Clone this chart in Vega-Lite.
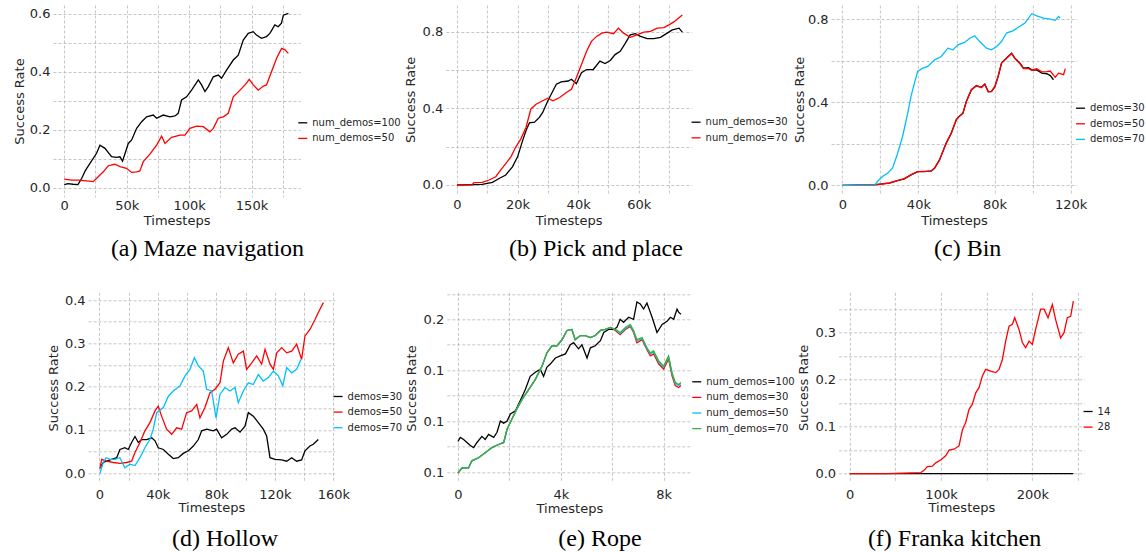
{
"$schema": "https://vega.github.io/schema/vega-lite/v6.json",
"autosize": {"type": "none"},
"padding": {"left": 53, "top": 5, "right": 1093, "bottom": 547},
"background": "white",
"config": {
  "view": {"stroke": null},
  "font": "DejaVu Sans",
  "axis": {"grid": true, "gridColor": "#b8b8b8", "gridDash": [3, 2], "gridWidth": 0.8, "domain": false, "ticks": false,
    "labelFont": "DejaVu Sans", "labelFontSize": 13, "labelColor": "#262626", "labelOverlap": false, "labelFlush": false,
    "titleFont": "DejaVu Sans", "titleFontSize": 13, "titleFontWeight": "normal", "titleColor": "#262626"},
  "axisY": {"labelPadding": 3, "titleBaseline": "middle"},
  "legend": {"orient": "none", "title": null, "labelFont": "DejaVu Sans", "labelFontSize": 10, "labelColor": "#262626",
    "symbolType": "stroke", "symbolSize": 81, "symbolStrokeWidth": 1.5, "rowPadding": 4.6, "labelOffset": 4, "padding": 0},
  "title": {"orient": "bottom", "font": "Liberation Serif", "fontSize": 24, "fontWeight": "normal", "color": "#000000", "frame": "group", "anchor": "middle"},
  "line": {"strokeWidth": 1.3}
},
"datasets": {
"maze": [
{"demos":"num_demos=100","step":0,"rate":0.011},{"demos":"num_demos=100","step":3000,"rate":0.014},{"demos":"num_demos=100","step":7000,"rate":0.012},{"demos":"num_demos=100","step":11000,"rate":0.011},{"demos":"num_demos=100","step":13900,"rate":0.032},{"demos":"num_demos=100","step":17000,"rate":0.06},{"demos":"num_demos=100","step":20600,"rate":0.084},{"demos":"num_demos=100","step":25900,"rate":0.119},{"demos":"num_demos=100","step":28600,"rate":0.147},{"demos":"num_demos=100","step":32600,"rate":0.136},{"demos":"num_demos=100","step":37900,"rate":0.107},{"demos":"num_demos=100","step":41900,"rate":0.105},{"demos":"num_demos=100","step":44600,"rate":0.107},{"demos":"num_demos=100","step":46700,"rate":0.092},{"demos":"num_demos=100","step":51300,"rate":0.153},{"demos":"num_demos=100","step":54000,"rate":0.165},{"demos":"num_demos=100","step":58000,"rate":0.205},{"demos":"num_demos=100","step":62000,"rate":0.228},{"demos":"num_demos=100","step":66000,"rate":0.245},{"demos":"num_demos=100","step":71300,"rate":0.251},{"demos":"num_demos=100","step":74000,"rate":0.24},{"demos":"num_demos=100","step":79300,"rate":0.251},{"demos":"num_demos=100","step":84700,"rate":0.245},{"demos":"num_demos=100","step":88700,"rate":0.248},{"demos":"num_demos=100","step":91300,"rate":0.257},{"demos":"num_demos=100","step":94000,"rate":0.303},{"demos":"num_demos=100","step":98000,"rate":0.314},{"demos":"num_demos=100","step":102000,"rate":0.337},{"demos":"num_demos=100","step":107400,"rate":0.372},{"demos":"num_demos=100","step":110000,"rate":0.355},{"demos":"num_demos=100","step":112700,"rate":0.332},{"demos":"num_demos=100","step":115400,"rate":0.349},{"demos":"num_demos=100","step":119400,"rate":0.383},{"demos":"num_demos=100","step":123400,"rate":0.389},{"demos":"num_demos=100","step":126000,"rate":0.378},{"demos":"num_demos=100","step":130000,"rate":0.406},{"demos":"num_demos=100","step":135400,"rate":0.441},{"demos":"num_demos=100","step":139400,"rate":0.458},{"demos":"num_demos=100","step":143400,"rate":0.51},{"demos":"num_demos=100","step":147400,"rate":0.533},{"demos":"num_demos=100","step":151400,"rate":0.539},{"demos":"num_demos=100","step":154000,"rate":0.527},{"demos":"num_demos=100","step":158000,"rate":0.516},{"demos":"num_demos=100","step":162000,"rate":0.522},{"demos":"num_demos=100","step":164700,"rate":0.533},{"demos":"num_demos=100","step":168700,"rate":0.562},{"demos":"num_demos=100","step":171400,"rate":0.556},{"demos":"num_demos=100","step":174000,"rate":0.568},{"demos":"num_demos=100","step":175500,"rate":0.596},{"demos":"num_demos=100","step":179500,"rate":0.602},
{"demos":"num_demos=50","step":0,"rate":0.03},{"demos":"num_demos=50","step":5900,"rate":0.026},{"demos":"num_demos=50","step":11200,"rate":0.026},{"demos":"num_demos=50","step":17900,"rate":0.024},{"demos":"num_demos=50","step":23200,"rate":0.021},{"demos":"num_demos=50","step":27200,"rate":0.038},{"demos":"num_demos=50","step":31300,"rate":0.055},{"demos":"num_demos=50","step":35300,"rate":0.076},{"demos":"num_demos=50","step":40600,"rate":0.081},{"demos":"num_demos=50","step":44600,"rate":0.073},{"demos":"num_demos=50","step":49900,"rate":0.067},{"demos":"num_demos=50","step":54000,"rate":0.053},{"demos":"num_demos=50","step":58000,"rate":0.055},{"demos":"num_demos=50","step":60600,"rate":0.058},{"demos":"num_demos=50","step":63300,"rate":0.09},{"demos":"num_demos=50","step":68600,"rate":0.116},{"demos":"num_demos=50","step":74000,"rate":0.147},{"demos":"num_demos=50","step":78000,"rate":0.178},{"demos":"num_demos=50","step":80700,"rate":0.153},{"demos":"num_demos=50","step":86000,"rate":0.174},{"demos":"num_demos=50","step":92700,"rate":0.182},{"demos":"num_demos=50","step":96700,"rate":0.182},{"demos":"num_demos=50","step":100700,"rate":0.205},{"demos":"num_demos=50","step":106000,"rate":0.213},{"demos":"num_demos=50","step":111400,"rate":0.211},{"demos":"num_demos=50","step":116700,"rate":0.193},{"demos":"num_demos=50","step":119400,"rate":0.205},{"demos":"num_demos=50","step":123400,"rate":0.24},{"demos":"num_demos=50","step":127400,"rate":0.245},{"demos":"num_demos=50","step":131400,"rate":0.257},{"demos":"num_demos=50","step":135400,"rate":0.314},{"demos":"num_demos=50","step":140800,"rate":0.337},{"demos":"num_demos=50","step":144800,"rate":0.355},{"demos":"num_demos=50","step":148200,"rate":0.374},{"demos":"num_demos=50","step":151400,"rate":0.355},{"demos":"num_demos=50","step":155400,"rate":0.337},{"demos":"num_demos=50","step":159500,"rate":0.351},{"demos":"num_demos=50","step":162000,"rate":0.355},{"demos":"num_demos=50","step":166100,"rate":0.401},{"demos":"num_demos=50","step":170100,"rate":0.447},{"demos":"num_demos=50","step":174100,"rate":0.481},{"demos":"num_demos=50","step":176800,"rate":0.476},{"demos":"num_demos=50","step":179500,"rate":0.464}
],
"pick": [
{"demos":"num_demos=30","step":0,"rate":0},{"demos":"num_demos=30","step":8300,"rate":0.003},{"demos":"num_demos=30","step":11700,"rate":0.014},{"demos":"num_demos=30","step":13900,"rate":0.034},{"demos":"num_demos=30","step":16100,"rate":0.052},{"demos":"num_demos=30","step":18300,"rate":0.095},{"demos":"num_demos=30","step":20000,"rate":0.147},{"demos":"num_demos=30","step":21700,"rate":0.233},{"demos":"num_demos=30","step":22800,"rate":0.284},{"demos":"num_demos=30","step":23900,"rate":0.324},{"demos":"num_demos=30","step":25600,"rate":0.328},{"demos":"num_demos=30","step":27200,"rate":0.353},{"demos":"num_demos=30","step":28300,"rate":0.379},{"demos":"num_demos=30","step":30000,"rate":0.44},{"demos":"num_demos=30","step":31100,"rate":0.474},{"demos":"num_demos=30","step":32800,"rate":0.526},{"demos":"num_demos=30","step":34400,"rate":0.538},{"demos":"num_demos=30","step":36700,"rate":0.543},{"demos":"num_demos=30","step":37800,"rate":0.552},{"demos":"num_demos=30","step":39400,"rate":0.529},{"demos":"num_demos=30","step":41100,"rate":0.586},{"demos":"num_demos=30","step":42800,"rate":0.603},{"demos":"num_demos=30","step":45000,"rate":0.603},{"demos":"num_demos=30","step":47200,"rate":0.647},{"demos":"num_demos=30","step":48900,"rate":0.634},{"demos":"num_demos=30","step":50600,"rate":0.65},{"demos":"num_demos=30","step":52200,"rate":0.681},{"demos":"num_demos=30","step":53900,"rate":0.698},{"demos":"num_demos=30","step":55600,"rate":0.741},{"demos":"num_demos=30","step":57200,"rate":0.784},{"demos":"num_demos=30","step":58900,"rate":0.79},{"demos":"num_demos=30","step":60600,"rate":0.776},{"demos":"num_demos=30","step":62800,"rate":0.764},{"demos":"num_demos=30","step":65000,"rate":0.764},{"demos":"num_demos=30","step":67200,"rate":0.771},{"demos":"num_demos=30","step":69400,"rate":0.793},{"demos":"num_demos=30","step":71100,"rate":0.81},{"demos":"num_demos=30","step":73300,"rate":0.819},{"demos":"num_demos=30","step":74400,"rate":0.798},
{"demos":"num_demos=70","step":0,"rate":0},{"demos":"num_demos=70","step":5000,"rate":0.001},{"demos":"num_demos=70","step":5600,"rate":0.012},{"demos":"num_demos=70","step":8300,"rate":0.014},{"demos":"num_demos=70","step":10600,"rate":0.026},{"demos":"num_demos=70","step":12800,"rate":0.043},{"demos":"num_demos=70","step":14400,"rate":0.078},{"demos":"num_demos=70","step":16100,"rate":0.112},{"demos":"num_demos=70","step":17800,"rate":0.147},{"demos":"num_demos=70","step":19400,"rate":0.198},{"demos":"num_demos=70","step":21100,"rate":0.241},{"demos":"num_demos=70","step":22800,"rate":0.302},{"demos":"num_demos=70","step":24400,"rate":0.397},{"demos":"num_demos=70","step":26100,"rate":0.422},{"demos":"num_demos=70","step":28300,"rate":0.44},{"demos":"num_demos=70","step":30000,"rate":0.453},{"demos":"num_demos=70","step":31700,"rate":0.44},{"demos":"num_demos=70","step":33900,"rate":0.457},{"demos":"num_demos=70","step":36100,"rate":0.483},{"demos":"num_demos=70","step":37800,"rate":0.5},{"demos":"num_demos=70","step":39400,"rate":0.56},{"demos":"num_demos=70","step":41100,"rate":0.629},{"demos":"num_demos=70","step":42800,"rate":0.698},{"demos":"num_demos=70","step":44400,"rate":0.75},{"demos":"num_demos=70","step":46100,"rate":0.776},{"demos":"num_demos=70","step":47800,"rate":0.793},{"demos":"num_demos=70","step":49400,"rate":0.798},{"demos":"num_demos=70","step":51700,"rate":0.79},{"demos":"num_demos=70","step":53300,"rate":0.819},{"demos":"num_demos=70","step":55000,"rate":0.793},{"demos":"num_demos=70","step":57200,"rate":0.771},{"demos":"num_demos=70","step":59400,"rate":0.784},{"demos":"num_demos=70","step":61700,"rate":0.798},{"demos":"num_demos=70","step":63900,"rate":0.802},{"demos":"num_demos=70","step":66100,"rate":0.819},{"demos":"num_demos=70","step":68300,"rate":0.822},{"demos":"num_demos=70","step":70000,"rate":0.836},{"demos":"num_demos=70","step":71700,"rate":0.853},{"demos":"num_demos=70","step":73300,"rate":0.874},{"demos":"num_demos=70","step":74400,"rate":0.888}
],
"bin": [
{"demos":"demos=30","step":0,"rate":0},{"demos":"demos=30","step":16700,"rate":0.002},{"demos":"demos=30","step":24700,"rate":0.01},{"demos":"demos=30","step":29000,"rate":0.022},{"demos":"demos=30","step":32600,"rate":0.031},{"demos":"demos=30","step":36100,"rate":0.05},{"demos":"demos=30","step":39600,"rate":0.066},{"demos":"demos=30","step":43200,"rate":0.066},{"demos":"demos=30","step":46700,"rate":0.069},{"demos":"demos=30","step":48500,"rate":0.082},{"demos":"demos=30","step":51100,"rate":0.122},{"demos":"demos=30","step":54600,"rate":0.202},{"demos":"demos=30","step":57300,"rate":0.251},{"demos":"demos=30","step":59900,"rate":0.315},{"demos":"demos=30","step":61700,"rate":0.334},{"demos":"demos=30","step":63400,"rate":0.347},{"demos":"demos=30","step":65200,"rate":0.403},{"demos":"demos=30","step":67800,"rate":0.459},{"demos":"demos=30","step":70500,"rate":0.479},{"demos":"demos=30","step":73100,"rate":0.472},{"demos":"demos=30","step":74900,"rate":0.487},{"demos":"demos=30","step":76700,"rate":0.451},{"demos":"demos=30","step":78400,"rate":0.451},{"demos":"demos=30","step":80200,"rate":0.475},{"demos":"demos=30","step":81900,"rate":0.524},{"demos":"demos=30","step":83700,"rate":0.588},{"demos":"demos=30","step":86300,"rate":0.612},{"demos":"demos=30","step":89000,"rate":0.636},{"demos":"demos=30","step":90700,"rate":0.612},{"demos":"demos=30","step":93400,"rate":0.588},{"demos":"demos=30","step":95200,"rate":0.564},{"demos":"demos=30","step":97800,"rate":0.566},{"demos":"demos=30","step":99600,"rate":0.556},{"demos":"demos=30","step":102200,"rate":0.555},{"demos":"demos=30","step":104800,"rate":0.54},{"demos":"demos=30","step":107500,"rate":0.537},{"demos":"demos=30","step":109300,"rate":0.528},{"demos":"demos=30","step":111000,"rate":0.508},
{"demos":"demos=50","step":0,"rate":0},{"demos":"demos=50","step":16700,"rate":0.002},{"demos":"demos=50","step":24700,"rate":0.011},{"demos":"demos=50","step":29000,"rate":0.022},{"demos":"demos=50","step":32600,"rate":0.032},{"demos":"demos=50","step":36100,"rate":0.05},{"demos":"demos=50","step":39600,"rate":0.066},{"demos":"demos=50","step":43200,"rate":0.067},{"demos":"demos=50","step":46700,"rate":0.068},{"demos":"demos=50","step":48500,"rate":0.083},{"demos":"demos=50","step":51100,"rate":0.122},{"demos":"demos=50","step":54600,"rate":0.203},{"demos":"demos=50","step":57300,"rate":0.252},{"demos":"demos=50","step":59900,"rate":0.316},{"demos":"demos=50","step":61700,"rate":0.334},{"demos":"demos=50","step":63400,"rate":0.346},{"demos":"demos=50","step":65200,"rate":0.404},{"demos":"demos=50","step":67800,"rate":0.46},{"demos":"demos=50","step":70500,"rate":0.48},{"demos":"demos=50","step":73100,"rate":0.47},{"demos":"demos=50","step":74900,"rate":0.486},{"demos":"demos=50","step":76700,"rate":0.45},{"demos":"demos=50","step":78400,"rate":0.452},{"demos":"demos=50","step":80200,"rate":0.476},{"demos":"demos=50","step":81900,"rate":0.525},{"demos":"demos=50","step":83700,"rate":0.588},{"demos":"demos=50","step":86300,"rate":0.613},{"demos":"demos=50","step":89000,"rate":0.635},{"demos":"demos=50","step":90700,"rate":0.61},{"demos":"demos=50","step":93400,"rate":0.585},{"demos":"demos=50","step":95200,"rate":0.562},{"demos":"demos=50","step":97800,"rate":0.563},{"demos":"demos=50","step":99600,"rate":0.554},{"demos":"demos=50","step":102200,"rate":0.561},{"demos":"demos=50","step":104800,"rate":0.546},{"demos":"demos=50","step":107500,"rate":0.547},{"demos":"demos=50","step":109300,"rate":0.55},{"demos":"demos=50","step":111900,"rate":0.52},{"demos":"demos=50","step":113700,"rate":0.54},{"demos":"demos=50","step":116300,"rate":0.533},{"demos":"demos=50","step":117200,"rate":0.562},
{"demos":"demos=70","step":0,"rate":0},{"demos":"demos=70","step":17000,"rate":0.001},{"demos":"demos=70","step":18500,"rate":0.018},{"demos":"demos=70","step":21100,"rate":0.042},{"demos":"demos=70","step":23800,"rate":0.058},{"demos":"demos=70","step":26400,"rate":0.082},{"demos":"demos=70","step":29100,"rate":0.154},{"demos":"demos=70","step":31700,"rate":0.235},{"demos":"demos=70","step":34400,"rate":0.347},{"demos":"demos=70","step":36100,"rate":0.427},{"demos":"demos=70","step":37900,"rate":0.492},{"demos":"demos=70","step":39600,"rate":0.548},{"demos":"demos=70","step":42300,"rate":0.564},{"demos":"demos=70","step":44900,"rate":0.572},{"demos":"demos=70","step":48500,"rate":0.604},{"demos":"demos=70","step":52000,"rate":0.62},{"demos":"demos=70","step":55500,"rate":0.66},{"demos":"demos=70","step":58100,"rate":0.652},{"demos":"demos=70","step":60800,"rate":0.676},{"demos":"demos=70","step":64300,"rate":0.688},{"demos":"demos=70","step":67000,"rate":0.708},{"demos":"demos=70","step":69600,"rate":0.72},{"demos":"demos=70","step":72200,"rate":0.692},{"demos":"demos=70","step":75800,"rate":0.66},{"demos":"demos=70","step":78400,"rate":0.652},{"demos":"demos=70","step":81100,"rate":0.668},{"demos":"demos=70","step":83700,"rate":0.692},{"demos":"demos=70","step":86300,"rate":0.733},{"demos":"demos=70","step":89900,"rate":0.745},{"demos":"demos=70","step":92500,"rate":0.761},{"demos":"demos=70","step":96000,"rate":0.781},{"demos":"demos=70","step":99600,"rate":0.826},{"demos":"demos=70","step":102200,"rate":0.816},{"demos":"demos=70","step":105700,"rate":0.805},{"demos":"demos=70","step":109300,"rate":0.8},{"demos":"demos=70","step":111900,"rate":0.794},{"demos":"demos=70","step":113700,"rate":0.813},{"demos":"demos=70","step":114500,"rate":0.805}
],
"hollow": [
{"demos":"demos=30","step":500,"rate":0.013},{"demos":"demos=30","step":2700,"rate":0.025},{"demos":"demos=30","step":5000,"rate":0.028},{"demos":"demos=30","step":8400,"rate":0.032},{"demos":"demos=30","step":11900,"rate":0.036},{"demos":"demos=30","step":14100,"rate":0.055},{"demos":"demos=30","step":17500,"rate":0.059},{"demos":"demos=30","step":19800,"rate":0.055},{"demos":"demos=30","step":22100,"rate":0.071},{"demos":"demos=30","step":24400,"rate":0.085},{"demos":"demos=30","step":26700,"rate":0.071},{"demos":"demos=30","step":28900,"rate":0.078},{"demos":"demos=30","step":32400,"rate":0.078},{"demos":"demos=30","step":35800,"rate":0.082},{"demos":"demos=30","step":38100,"rate":0.075},{"demos":"demos=30","step":40300,"rate":0.059},{"demos":"demos=30","step":43800,"rate":0.055},{"demos":"demos=30","step":47200,"rate":0.044},{"demos":"demos=30","step":50600,"rate":0.034},{"demos":"demos=30","step":54000,"rate":0.036},{"demos":"demos=30","step":57400,"rate":0.046},{"demos":"demos=30","step":60900,"rate":0.052},{"demos":"demos=30","step":64300,"rate":0.063},{"demos":"demos=30","step":67700,"rate":0.078},{"demos":"demos=30","step":70000,"rate":0.098},{"demos":"demos=30","step":73400,"rate":0.102},{"demos":"demos=30","step":77900,"rate":0.098},{"demos":"demos=30","step":80200,"rate":0.102},{"demos":"demos=30","step":83600,"rate":0.082},{"demos":"demos=30","step":87100,"rate":0.09},{"demos":"demos=30","step":90500,"rate":0.102},{"demos":"demos=30","step":92800,"rate":0.105},{"demos":"demos=30","step":96200,"rate":0.095},{"demos":"demos=30","step":99600,"rate":0.109},{"demos":"demos=30","step":101900,"rate":0.14},{"demos":"demos=30","step":105300,"rate":0.132},{"demos":"demos=30","step":108700,"rate":0.117},{"demos":"demos=30","step":112100,"rate":0.102},{"demos":"demos=30","step":114400,"rate":0.086},{"demos":"demos=30","step":116700,"rate":0.036},{"demos":"demos=30","step":120100,"rate":0.032},{"demos":"demos=30","step":124700,"rate":0.031},{"demos":"demos=30","step":128100,"rate":0.028},{"demos":"demos=30","step":131500,"rate":0.036},{"demos":"demos=30","step":134900,"rate":0.028},{"demos":"demos=30","step":138300,"rate":0.031},{"demos":"demos=30","step":140600,"rate":0.052},{"demos":"demos=30","step":144000,"rate":0.063},{"demos":"demos=30","step":146300,"rate":0.067},{"demos":"demos=30","step":149700,"rate":0.078},
{"demos":"demos=50","step":500,"rate":0.011},{"demos":"demos=50","step":1600,"rate":0.032},{"demos":"demos=50","step":5000,"rate":0.028},{"demos":"demos=50","step":9600,"rate":0.025},{"demos":"demos=50","step":14100,"rate":0.023},{"demos":"demos=50","step":18700,"rate":0.025},{"demos":"demos=50","step":22100,"rate":0.028},{"demos":"demos=50","step":24400,"rate":0.048},{"demos":"demos=50","step":27800,"rate":0.071},{"demos":"demos=50","step":31200,"rate":0.098},{"demos":"demos=50","step":34600,"rate":0.117},{"demos":"demos=50","step":38100,"rate":0.144},{"demos":"demos=50","step":40300,"rate":0.155},{"demos":"demos=50","step":42600,"rate":0.132},{"demos":"demos=50","step":46000,"rate":0.102},{"demos":"demos=50","step":49500,"rate":0.09},{"demos":"demos=50","step":52900,"rate":0.105},{"demos":"demos=50","step":56300,"rate":0.102},{"demos":"demos=50","step":59700,"rate":0.14},{"demos":"demos=50","step":63100,"rate":0.144},{"demos":"demos=50","step":66600,"rate":0.159},{"demos":"demos=50","step":68800,"rate":0.128},{"demos":"demos=50","step":72200,"rate":0.152},{"demos":"demos=50","step":75700,"rate":0.186},{"demos":"demos=50","step":79100,"rate":0.194},{"demos":"demos=50","step":82500,"rate":0.209},{"demos":"demos=50","step":84800,"rate":0.259},{"demos":"demos=50","step":88200,"rate":0.29},{"demos":"demos=50","step":91600,"rate":0.255},{"demos":"demos=50","step":95000,"rate":0.275},{"demos":"demos=50","step":98500,"rate":0.282},{"demos":"demos=50","step":100700,"rate":0.24},{"demos":"demos=50","step":104200,"rate":0.255},{"demos":"demos=50","step":107600,"rate":0.271},{"demos":"demos=50","step":111000,"rate":0.252},{"demos":"demos=50","step":113300,"rate":0.286},{"demos":"demos=50","step":116700,"rate":0.252},{"demos":"demos=50","step":119000,"rate":0.24},{"demos":"demos=50","step":121300,"rate":0.278},{"demos":"demos=50","step":124700,"rate":0.29},{"demos":"demos=50","step":128100,"rate":0.278},{"demos":"demos=50","step":131500,"rate":0.282},{"demos":"demos=50","step":134900,"rate":0.298},{"demos":"demos=50","step":138300,"rate":0.263},{"demos":"demos=50","step":140600,"rate":0.317},{"demos":"demos=50","step":144000,"rate":0.332},{"demos":"demos=50","step":147500,"rate":0.355},{"demos":"demos=50","step":149700,"rate":0.371},{"demos":"demos=50","step":153200,"rate":0.394},
{"demos":"demos=70","step":500,"rate":0.0},{"demos":"demos=70","step":2700,"rate":0.025},{"demos":"demos=70","step":4600,"rate":0.036},{"demos":"demos=70","step":7300,"rate":0.032},{"demos":"demos=70","step":10700,"rate":0.032},{"demos":"demos=70","step":14100,"rate":0.036},{"demos":"demos=70","step":17500,"rate":0.013},{"demos":"demos=70","step":21000,"rate":0.021},{"demos":"demos=70","step":24400,"rate":0.018},{"demos":"demos=70","step":27800,"rate":0.036},{"demos":"demos=70","step":31200,"rate":0.059},{"demos":"demos=70","step":34600,"rate":0.078},{"demos":"demos=70","step":36900,"rate":0.102},{"demos":"demos=70","step":39200,"rate":0.14},{"demos":"demos=70","step":43800,"rate":0.152},{"demos":"demos=70","step":47200,"rate":0.178},{"demos":"demos=70","step":50600,"rate":0.19},{"demos":"demos=70","step":55200,"rate":0.202},{"demos":"demos=70","step":58600,"rate":0.225},{"demos":"demos=70","step":62000,"rate":0.24},{"demos":"demos=70","step":65000,"rate":0.267},{"demos":"demos=70","step":67700,"rate":0.248},{"demos":"demos=70","step":71100,"rate":0.236},{"demos":"demos=70","step":73400,"rate":0.194},{"demos":"demos=70","step":76800,"rate":0.19},{"demos":"demos=70","step":79800,"rate":0.128},{"demos":"demos=70","step":82500,"rate":0.182},{"demos":"demos=70","step":85900,"rate":0.198},{"demos":"demos=70","step":89300,"rate":0.19},{"demos":"demos=70","step":92800,"rate":0.198},{"demos":"demos=70","step":95000,"rate":0.163},{"demos":"demos=70","step":98500,"rate":0.19},{"demos":"demos=70","step":101900,"rate":0.209},{"demos":"demos=70","step":105300,"rate":0.205},{"demos":"demos=70","step":108700,"rate":0.228},{"demos":"demos=70","step":112100,"rate":0.213},{"demos":"demos=70","step":115600,"rate":0.221},{"demos":"demos=70","step":119000,"rate":0.236},{"demos":"demos=70","step":122400,"rate":0.225},{"demos":"demos=70","step":125400,"rate":0.202},{"demos":"demos=70","step":128100,"rate":0.244},{"demos":"demos=70","step":131500,"rate":0.232},{"demos":"demos=70","step":134900,"rate":0.24},{"demos":"demos=70","step":137900,"rate":0.263}
],
"rope": [
{"demos":"num_demos=100","step":0,"rate":0.08},{"demos":"num_demos=100","step":90,"rate":0.084},{"demos":"num_demos=100","step":220,"rate":0.082},{"demos":"num_demos=100","step":350,"rate":0.079},{"demos":"num_demos=100","step":480,"rate":0.076},{"demos":"num_demos=100","step":610,"rate":0.074},{"demos":"num_demos=100","step":740,"rate":0.079},{"demos":"num_demos=100","step":930,"rate":0.085},{"demos":"num_demos=100","step":1060,"rate":0.082},{"demos":"num_demos=100","step":1190,"rate":0.087},{"demos":"num_demos=100","step":1390,"rate":0.084},{"demos":"num_demos=100","step":1520,"rate":0.089},{"demos":"num_demos=100","step":1650,"rate":0.1},{"demos":"num_demos=100","step":1780,"rate":0.098},{"demos":"num_demos=100","step":1910,"rate":0.1},{"demos":"num_demos=100","step":2040,"rate":0.107},{"demos":"num_demos=100","step":2230,"rate":0.11},{"demos":"num_demos=100","step":2420,"rate":0.12},{"demos":"num_demos=100","step":2620,"rate":0.131},{"demos":"num_demos=100","step":2810,"rate":0.144},{"demos":"num_demos=100","step":3010,"rate":0.148},{"demos":"num_demos=100","step":3200,"rate":0.151},{"demos":"num_demos=100","step":3330,"rate":0.144},{"demos":"num_demos=100","step":3460,"rate":0.153},{"demos":"num_demos=100","step":3590,"rate":0.156},{"demos":"num_demos=100","step":3790,"rate":0.162},{"demos":"num_demos=100","step":3980,"rate":0.164},{"demos":"num_demos=100","step":4180,"rate":0.166},{"demos":"num_demos=100","step":4370,"rate":0.175},{"demos":"num_demos=100","step":4500,"rate":0.177},{"demos":"num_demos=100","step":4690,"rate":0.171},{"demos":"num_demos=100","step":4820,"rate":0.175},{"demos":"num_demos=100","step":5020,"rate":0.162},{"demos":"num_demos=100","step":5150,"rate":0.172},{"demos":"num_demos=100","step":5340,"rate":0.174},{"demos":"num_demos=100","step":5540,"rate":0.179},{"demos":"num_demos=100","step":5670,"rate":0.187},{"demos":"num_demos=100","step":5860,"rate":0.19},{"demos":"num_demos=100","step":6060,"rate":0.19},{"demos":"num_demos=100","step":6180,"rate":0.192},{"demos":"num_demos=100","step":6310,"rate":0.2},{"demos":"num_demos=100","step":6440,"rate":0.197},{"demos":"num_demos=100","step":6640,"rate":0.202},{"demos":"num_demos=100","step":6830,"rate":0.2},{"demos":"num_demos=100","step":6960,"rate":0.217},{"demos":"num_demos=100","step":7090,"rate":0.215},{"demos":"num_demos=100","step":7220,"rate":0.21},{"demos":"num_demos=100","step":7350,"rate":0.216},{"demos":"num_demos=100","step":7550,"rate":0.202},{"demos":"num_demos=100","step":7740,"rate":0.187},{"demos":"num_demos=100","step":7940,"rate":0.195},{"demos":"num_demos=100","step":8130,"rate":0.198},{"demos":"num_demos=100","step":8260,"rate":0.202},{"demos":"num_demos=100","step":8390,"rate":0.2},{"demos":"num_demos=100","step":8520,"rate":0.21},{"demos":"num_demos=100","step":8580,"rate":0.207},{"demos":"num_demos=100","step":8670,"rate":0.205},
{"demos":"num_demos=30","step":0,"rate":0.049},{"demos":"num_demos=30","step":160,"rate":0.054},{"demos":"num_demos=30","step":410,"rate":0.054},{"demos":"num_demos=30","step":540,"rate":0.061},{"demos":"num_demos=30","step":800,"rate":0.064},{"demos":"num_demos=30","step":1060,"rate":0.069},{"demos":"num_demos=30","step":1320,"rate":0.074},{"demos":"num_demos=30","step":1580,"rate":0.077},{"demos":"num_demos=30","step":1780,"rate":0.079},{"demos":"num_demos=30","step":1910,"rate":0.092},{"demos":"num_demos=30","step":2100,"rate":0.102},{"demos":"num_demos=30","step":2290,"rate":0.112},{"demos":"num_demos=30","step":2490,"rate":0.121},{"demos":"num_demos=30","step":2750,"rate":0.131},{"demos":"num_demos=30","step":3010,"rate":0.141},{"demos":"num_demos=30","step":3270,"rate":0.154},{"demos":"num_demos=30","step":3460,"rate":0.167},{"demos":"num_demos=30","step":3660,"rate":0.174},{"demos":"num_demos=30","step":3850,"rate":0.174},{"demos":"num_demos=30","step":4050,"rate":0.18},{"demos":"num_demos=30","step":4240,"rate":0.189},{"demos":"num_demos=30","step":4430,"rate":0.19},{"demos":"num_demos=30","step":4560,"rate":0.18},{"demos":"num_demos=30","step":4760,"rate":0.184},{"demos":"num_demos=30","step":4950,"rate":0.184},{"demos":"num_demos=30","step":5150,"rate":0.182},{"demos":"num_demos=30","step":5340,"rate":0.184},{"demos":"num_demos=30","step":5540,"rate":0.189},{"demos":"num_demos=30","step":5730,"rate":0.19},{"demos":"num_demos=30","step":5930,"rate":0.192},{"demos":"num_demos=30","step":6120,"rate":0.189},{"demos":"num_demos=30","step":6310,"rate":0.185},{"demos":"num_demos=30","step":6510,"rate":0.19},{"demos":"num_demos=30","step":6700,"rate":0.193},{"demos":"num_demos=30","step":6830,"rate":0.187},{"demos":"num_demos=30","step":6960,"rate":0.177},{"demos":"num_demos=30","step":7160,"rate":0.18},{"demos":"num_demos=30","step":7350,"rate":0.17},{"demos":"num_demos=30","step":7480,"rate":0.164},{"demos":"num_demos=30","step":7610,"rate":0.166},{"demos":"num_demos=30","step":7810,"rate":0.156},{"demos":"num_demos=30","step":8000,"rate":0.151},{"demos":"num_demos=30","step":8190,"rate":0.161},{"demos":"num_demos=30","step":8320,"rate":0.145},{"demos":"num_demos=30","step":8450,"rate":0.135},{"demos":"num_demos=30","step":8580,"rate":0.133},{"demos":"num_demos=30","step":8670,"rate":0.135},
{"demos":"num_demos=50","step":0,"rate":0.049},{"demos":"num_demos=50","step":160,"rate":0.054},{"demos":"num_demos=50","step":410,"rate":0.054},{"demos":"num_demos=50","step":540,"rate":0.061},{"demos":"num_demos=50","step":800,"rate":0.064},{"demos":"num_demos=50","step":1060,"rate":0.069},{"demos":"num_demos=50","step":1320,"rate":0.074},{"demos":"num_demos=50","step":1580,"rate":0.077},{"demos":"num_demos=50","step":1780,"rate":0.079},{"demos":"num_demos=50","step":1910,"rate":0.092},{"demos":"num_demos=50","step":2100,"rate":0.102},{"demos":"num_demos=50","step":2290,"rate":0.112},{"demos":"num_demos=50","step":2490,"rate":0.121},{"demos":"num_demos=50","step":2750,"rate":0.131},{"demos":"num_demos=50","step":3010,"rate":0.141},{"demos":"num_demos=50","step":3270,"rate":0.154},{"demos":"num_demos=50","step":3460,"rate":0.167},{"demos":"num_demos=50","step":3660,"rate":0.174},{"demos":"num_demos=50","step":3850,"rate":0.174},{"demos":"num_demos=50","step":4050,"rate":0.18},{"demos":"num_demos=50","step":4240,"rate":0.189},{"demos":"num_demos=50","step":4430,"rate":0.19},{"demos":"num_demos=50","step":4560,"rate":0.18},{"demos":"num_demos=50","step":4760,"rate":0.184},{"demos":"num_demos=50","step":4950,"rate":0.184},{"demos":"num_demos=50","step":5150,"rate":0.182},{"demos":"num_demos=50","step":5340,"rate":0.184},{"demos":"num_demos=50","step":5540,"rate":0.189},{"demos":"num_demos=50","step":5730,"rate":0.19},{"demos":"num_demos=50","step":5930,"rate":0.192},{"demos":"num_demos=50","step":6120,"rate":0.19},{"demos":"num_demos=50","step":6310,"rate":0.186},{"demos":"num_demos=50","step":6510,"rate":0.191},{"demos":"num_demos=50","step":6700,"rate":0.194},{"demos":"num_demos=50","step":6830,"rate":0.188},{"demos":"num_demos=50","step":6960,"rate":0.179},{"demos":"num_demos=50","step":7160,"rate":0.181},{"demos":"num_demos=50","step":7350,"rate":0.171},{"demos":"num_demos=50","step":7480,"rate":0.166},{"demos":"num_demos=50","step":7610,"rate":0.168},{"demos":"num_demos=50","step":7810,"rate":0.158},{"demos":"num_demos=50","step":8000,"rate":0.153},{"demos":"num_demos=50","step":8190,"rate":0.163},{"demos":"num_demos=50","step":8320,"rate":0.147},{"demos":"num_demos=50","step":8450,"rate":0.137},{"demos":"num_demos=50","step":8580,"rate":0.135},{"demos":"num_demos=50","step":8670,"rate":0.137},
{"demos":"num_demos=70","step":0,"rate":0.049},{"demos":"num_demos=70","step":160,"rate":0.054},{"demos":"num_demos=70","step":410,"rate":0.054},{"demos":"num_demos=70","step":540,"rate":0.061},{"demos":"num_demos=70","step":800,"rate":0.064},{"demos":"num_demos=70","step":1060,"rate":0.069},{"demos":"num_demos=70","step":1320,"rate":0.074},{"demos":"num_demos=70","step":1580,"rate":0.077},{"demos":"num_demos=70","step":1780,"rate":0.079},{"demos":"num_demos=70","step":1910,"rate":0.092},{"demos":"num_demos=70","step":2100,"rate":0.102},{"demos":"num_demos=70","step":2290,"rate":0.112},{"demos":"num_demos=70","step":2490,"rate":0.121},{"demos":"num_demos=70","step":2750,"rate":0.131},{"demos":"num_demos=70","step":3010,"rate":0.141},{"demos":"num_demos=70","step":3270,"rate":0.154},{"demos":"num_demos=70","step":3460,"rate":0.167},{"demos":"num_demos=70","step":3660,"rate":0.174},{"demos":"num_demos=70","step":3850,"rate":0.174},{"demos":"num_demos=70","step":4050,"rate":0.18},{"demos":"num_demos=70","step":4240,"rate":0.189},{"demos":"num_demos=70","step":4430,"rate":0.19},{"demos":"num_demos=70","step":4560,"rate":0.18},{"demos":"num_demos=70","step":4760,"rate":0.184},{"demos":"num_demos=70","step":4950,"rate":0.184},{"demos":"num_demos=70","step":5150,"rate":0.182},{"demos":"num_demos=70","step":5340,"rate":0.184},{"demos":"num_demos=70","step":5540,"rate":0.189},{"demos":"num_demos=70","step":5730,"rate":0.19},{"demos":"num_demos=70","step":5930,"rate":0.192},{"demos":"num_demos=70","step":6120,"rate":0.19},{"demos":"num_demos=70","step":6310,"rate":0.187},{"demos":"num_demos=70","step":6510,"rate":0.192},{"demos":"num_demos=70","step":6700,"rate":0.195},{"demos":"num_demos=70","step":6830,"rate":0.189},{"demos":"num_demos=70","step":6960,"rate":0.18},{"demos":"num_demos=70","step":7160,"rate":0.182},{"demos":"num_demos=70","step":7350,"rate":0.172},{"demos":"num_demos=70","step":7480,"rate":0.167},{"demos":"num_demos=70","step":7610,"rate":0.169},{"demos":"num_demos=70","step":7810,"rate":0.159},{"demos":"num_demos=70","step":8000,"rate":0.154},{"demos":"num_demos=70","step":8190,"rate":0.164},{"demos":"num_demos=70","step":8320,"rate":0.148},{"demos":"num_demos=70","step":8450,"rate":0.138},{"demos":"num_demos=70","step":8580,"rate":0.136},{"demos":"num_demos=70","step":8670,"rate":0.138}
],
"kitchen": [
{"demos":"14","step":0,"rate":0},{"demos":"14","step":50000,"rate":0},{"demos":"14","step":100000,"rate":0},{"demos":"14","step":150000,"rate":0},{"demos":"14","step":200000,"rate":0},{"demos":"14","step":244900,"rate":0},
{"demos":"28","step":0,"rate":0},{"demos":"28","step":40000,"rate":0},{"demos":"28","step":77700,"rate":0.002},{"demos":"28","step":81400,"rate":0.007},{"demos":"28","step":85000,"rate":0.015},{"demos":"28","step":90500,"rate":0.016},{"demos":"28","step":94200,"rate":0.023},{"demos":"28","step":99600,"rate":0.029},{"demos":"28","step":105100,"rate":0.038},{"demos":"28","step":108800,"rate":0.05},{"demos":"28","step":114200,"rate":0.052},{"demos":"28","step":119700,"rate":0.059},{"demos":"28","step":123400,"rate":0.093},{"demos":"28","step":127000,"rate":0.109},{"demos":"28","step":130700,"rate":0.137},{"demos":"28","step":134300,"rate":0.148},{"demos":"28","step":138000,"rate":0.172},{"demos":"28","step":141600,"rate":0.183},{"demos":"28","step":145300,"rate":0.208},{"demos":"28","step":148900,"rate":0.222},{"demos":"28","step":154400,"rate":0.218},{"demos":"28","step":159900,"rate":0.215},{"demos":"28","step":163500,"rate":0.222},{"demos":"28","step":167200,"rate":0.243},{"demos":"28","step":170800,"rate":0.282},{"demos":"28","step":174500,"rate":0.314},{"demos":"28","step":178100,"rate":0.318},{"demos":"28","step":180700,"rate":0.332},{"demos":"28","step":185400,"rate":0.307},{"demos":"28","step":189100,"rate":0.279},{"demos":"28","step":192700,"rate":0.268},{"demos":"28","step":196400,"rate":0.282},{"demos":"28","step":200000,"rate":0.275},{"demos":"28","step":203600,"rate":0.307},{"demos":"28","step":209100,"rate":0.35},{"demos":"28","step":212800,"rate":0.35},{"demos":"28","step":217200,"rate":0.332},{"demos":"28","step":221900,"rate":0.36},{"demos":"28","step":225500,"rate":0.328},{"demos":"28","step":231000,"rate":0.289},{"demos":"28","step":234700,"rate":0.3},{"demos":"28","step":238300,"rate":0.332},{"demos":"28","step":242000,"rate":0.335},{"demos":"28","step":244900,"rate":0.367}
]
},
"columns": 3,
"bounds": "flush",
"align": "all",
"spacing": {"row": 95.3, "column": 106.95},
"resolve": {"scale": {"color": "independent", "x": "independent", "y": "independent"}, "legend": {"color": "independent"}},
"concat": [
{
 "data": {"name": "maze"}, "width": 282, "height": 192,
 "title": {"text": "(a) Maze navigation", "dx": 13.5, "offset": 10.2},
 "mark": {"type": "line", "strokeWidth": 1.3},
 "encoding": {
  "x": {"field": "step", "type": "quantitative", "scale": {"domain": [-9000, 189000], "range": [0, 247.2], "nice": false, "zero": false},
   "axis": {"title": "Timesteps", "values": [0, 25000, 50000, 75000, 100000, 125000, 150000, 175000], "labelExpr": "datum.value % 50000 == 0 ? (datum.value == 0 ? '0' : (datum.value / 1000) + 'k') : ''", "labelPadding": 2.2, "titlePadding": 2}},
  "y": {"field": "rate", "type": "quantitative", "scale": {"domain": [-0.032, 0.631], "range": [192, 0], "nice": false, "zero": false},
   "axis": {"title": "Success Rate", "values": [0, 0.1, 0.2, 0.3, 0.4, 0.5, 0.6], "labelExpr": "round(datum.value * 10) % 2 == 0 ? format(datum.value, '.1f') : ''", "titleX": -33.5}},
  "color": {"field": "demos", "type": "nominal", "scale": {"domain": ["num_demos=100", "num_demos=50"], "range": ["#000000", "#ff0000"]}, "legend": {"legendX": 244.25, "legendY": 112.3}}
 }
},
{
 "data": {"name": "pick"}, "width": 282, "height": 188.6,
 "title": {"text": "(b) Pick and place", "dx": 13, "offset": 10.2},
 "mark": {"type": "line", "strokeWidth": 1.3},
 "encoding": {
  "x": {"field": "step", "type": "quantitative", "scale": {"domain": [-3700, 77400], "range": [3.85, 249.45], "nice": false, "zero": false},
   "axis": {"title": "Timesteps", "values": [0, 10000, 20000, 30000, 40000, 50000, 60000, 70000], "labelExpr": "datum.value % 20000 == 0 ? (datum.value == 0 ? '0' : (datum.value / 1000) + 'k') : ''", "labelPadding": 4.9, "titlePadding": 2.7}},
  "y": {"field": "rate", "type": "quantitative", "scale": {"domain": [-0.045, 0.94], "range": [188.6, 0], "nice": false, "zero": false},
   "axis": {"title": "Success Rate", "values": [0, 0.2, 0.4, 0.6, 0.8], "labelExpr": "round(datum.value * 10) % 4 == 0 ? format(datum.value, '.1f') : ''", "titleX": -34.95, "offset": -3.85}},
  "color": {"field": "demos", "type": "nominal", "scale": {"domain": ["num_demos=30", "num_demos=70"], "range": ["#000000", "#ff0000"]}, "legend": {"legendX": 248.6, "legendY": 111.7}}
 }
},
{
 "data": {"name": "bin"}, "width": 282, "height": 188.8,
 "title": {"text": "(c) Bin", "dx": -4.2, "offset": 10.2},
 "mark": {"type": "line", "strokeWidth": 1.3},
 "encoding": {
  "x": {"field": "step", "type": "quantitative", "scale": {"domain": [-5870, 123300], "range": [0.2, 246], "nice": false, "zero": false},
   "axis": {"title": "Timesteps", "values": [0, 20000, 40000, 60000, 80000, 100000, 120000], "labelExpr": "datum.value % 40000 == 0 ? (datum.value == 0 ? '0' : (datum.value / 1000) + 'k') : ''", "labelPadding": 4.7, "titlePadding": 2.7}},
  "y": {"field": "rate", "type": "quantitative", "scale": {"domain": [-0.041, 0.868], "range": [188.8, 0], "nice": false, "zero": false},
   "axis": {"title": "Success Rate", "values": [0, 0.2, 0.4, 0.6, 0.8], "labelExpr": "round(datum.value * 10) % 4 == 0 ? format(datum.value, '.1f') : ''", "titleX": -31.5, "offset": -0.2}},
  "color": {"field": "demos", "type": "nominal", "scale": {"domain": ["demos=30", "demos=50", "demos=70"], "range": ["#000000", "#ff0000", "#00bfff"]}, "legend": {"legendX": 244.05, "legendY": 97.7}}
 }
},
{
 "data": {"name": "hollow"}, "width": 282, "height": 189.6,
 "title": {"text": "(d) Hollow", "dx": 31, "offset": 12},
 "mark": {"type": "line", "strokeWidth": 1.3},
 "encoding": {
  "x": {"field": "step", "type": "quantitative", "scale": {"domain": [-7650, 160850], "range": [35.1, 281.6], "nice": false, "zero": false},
   "axis": {"title": "Timesteps", "values": [0, 20000, 40000, 60000, 80000, 100000, 120000, 140000, 160000], "labelExpr": "datum.value % 40000 == 0 ? (datum.value == 0 ? '0' : (datum.value / 1000) + 'k') : ''", "labelPadding": 6.6, "titlePadding": 0.4}},
  "y": {"field": "rate", "type": "quantitative", "scale": {"domain": [-0.0198, 0.4148], "range": [189.6, 1.3], "nice": false, "zero": false},
   "axis": {"title": "Success Rate", "values": [0, 0.05, 0.1, 0.15, 0.2, 0.25, 0.3, 0.35, 0.4], "labelExpr": "round(datum.value * 100) % 10 == 0 ? format(datum.value, '.1f') : ''", "titleX": -35, "offset": -35.1}},
  "color": {"field": "demos", "type": "nominal", "scale": {"domain": ["demos=30", "demos=50", "demos=70"], "range": ["#000000", "#ff0000", "#00bfff"]}, "legend": {"legendX": 279.55, "legendY": 98.7}}
 }
},
{
 "data": {"name": "rope"}, "width": 282, "height": 190.4,
 "title": {"text": "(e) Rope", "dx": 17, "offset": 12},
 "mark": {"type": "line", "strokeWidth": 1.3},
 "encoding": {
  "x": {"field": "step", "type": "quantitative", "scale": {"domain": [-434, 9100], "range": [4.85, 250], "nice": false, "zero": false},
   "axis": {"title": "Timesteps", "values": [0, 2000, 4000, 6000, 8000], "labelExpr": "datum.value % 4000 == 0 ? (datum.value == 0 ? '0' : (datum.value / 1000) + 'k') : ''", "labelPadding": 5.9, "titlePadding": 0.4}},
  "y": {"field": "rate", "type": "quantitative", "scale": {"domain": [0.0395, 0.2255], "range": [190.4, 1.0], "nice": false, "zero": false},
   "axis": {"title": "Success Rate", "values": [0.05, 0.075, 0.1, 0.125, 0.15, 0.175, 0.2, 0.225], "labelExpr": "round(datum.value * 1000) % 50 == 0 ? format(datum.value, '.1f') : ''", "titleX": -34.95, "offset": -4.85}},
  "color": {"field": "demos", "type": "nominal", "scale": {"domain": ["num_demos=100", "num_demos=30", "num_demos=50", "num_demos=70"], "range": ["#000000", "#ff0000", "#00bfff", "#36b336"]}, "legend": {"legendX": 249.3, "legendY": 84}}
 }
},
{
 "data": {"name": "kitchen"}, "width": 282, "height": 190,
 "title": {"text": "(f) Franka kitchen", "dx": -17.4, "offset": 12},
 "mark": {"type": "line", "strokeWidth": 1.3},
 "encoding": {
  "x": {"field": "step", "type": "quantitative", "scale": {"domain": [-12200, 256800], "range": [7.7, 253.3], "nice": false, "zero": false},
   "axis": {"title": "Timesteps", "values": [0, 50000, 100000, 150000, 200000, 250000], "labelExpr": "datum.value % 100000 == 0 ? (datum.value == 0 ? '0' : (datum.value / 1000) + 'k') : ''", "labelPadding": 6.2, "titlePadding": 0.4}},
  "y": {"field": "rate", "type": "quantitative", "scale": {"domain": [-0.0184, 0.386], "range": [190, 0], "nice": false, "zero": false},
   "axis": {"title": "Success Rate", "values": [0, 0.05, 0.1, 0.15, 0.2, 0.25, 0.3, 0.35], "labelExpr": "round(datum.value * 100) % 10 == 0 ? format(datum.value, '.1f') : ''", "titleX": -35.05, "offset": -7.7}},
  "color": {"field": "demos", "type": "nominal", "scale": {"domain": ["14", "28"], "range": ["#000000", "#ff0000"]}, "legend": {"legendX": 251.65, "legendY": 113.7}}
 }
}
]
}
